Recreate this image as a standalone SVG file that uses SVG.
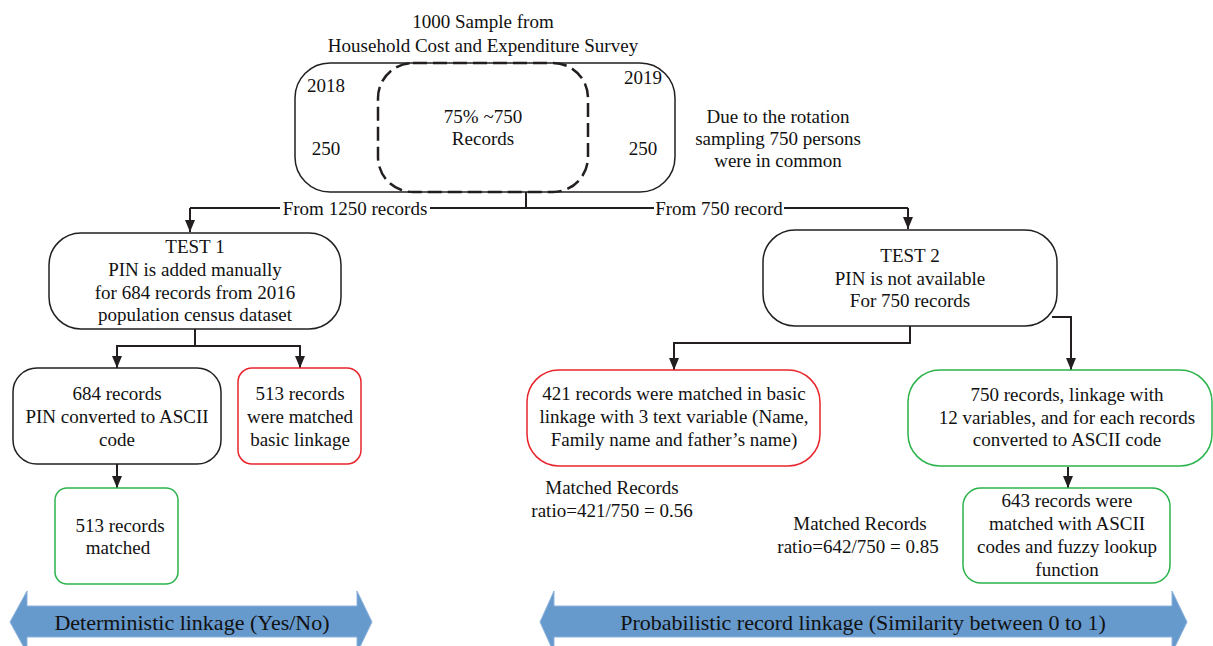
<svg xmlns="http://www.w3.org/2000/svg" width="1213" height="646" viewBox="0 0 1213 646">
<defs>
<style>
text{font-family:'Liberation Serif','Times New Roman',serif;font-size:19px;fill:#111;text-anchor:middle}
.box{fill:#fff;stroke:#231f20;stroke-width:1.5}
.red{fill:#fff;stroke:#e8242c;stroke-width:1.5}
.green{fill:#fff;stroke:#2bb34b;stroke-width:1.5}
.ln{fill:none;stroke:#231f20;stroke-width:2}
.big{font-size:22px}
.band{fill:#6699cc;stroke:#8db3dc;stroke-width:1}
</style>
<marker id="ah" viewBox="0 0 10 12" refX="10" refY="6" markerWidth="12" markerHeight="10" markerUnits="userSpaceOnUse" orient="auto" preserveAspectRatio="none">
<path d="M0,0 L10,6 L0,12 z" fill="#231f20"/>
</marker>
</defs>
<rect width="1213" height="646" fill="#fff"/>

<g id="title">
<text x="483" y="28">1000 Sample from</text>
<text x="483" y="52">Household Cost and Expenditure Survey</text>
</g>

<g id="survey">
<rect class="box" x="295" y="63" width="380" height="129" rx="35"/>
<rect x="378" y="63" width="210" height="129" rx="35" fill="none" stroke="#231f20" stroke-width="2.5" stroke-dasharray="14,6"/>
<text x="326" y="92">2018</text>
<text x="643" y="84">2019</text>
<text x="326" y="155">250</text>
<text x="643" y="155">250</text>
<text x="483" y="123">75% ~750</text>
<text x="483" y="145">Records</text>
</g>

<g id="note">
<text x="778" y="123">Due to the rotation</text>
<text x="778" y="145">sampling 750 persons</text>
<text x="778" y="167">were in common</text>
</g>

<g id="connectors">
<path class="ln" d="M526,192 V208"/>
<path class="ln" d="M190,208 H908"/>
<path class="ln" d="M190,208 V232" marker-end="url(#ah)"/>
<path class="ln" d="M908,208 V229" marker-end="url(#ah)"/>
<rect x="280" y="198" width="150" height="20" fill="#fff"/>
<text x="355" y="215">From 1250 records</text>
<rect x="654" y="198" width="130" height="20" fill="#fff"/>
<text x="719" y="215">From 750 record</text>
<path class="ln" d="M195,329 V346 H117 V368" marker-end="url(#ah)"/>
<path class="ln" d="M195,346 H300 V368" marker-end="url(#ah)"/>
<path class="ln" d="M117,464 V488" marker-end="url(#ah)"/>
<path class="ln" d="M910,326 V343 H674 V370" marker-end="url(#ah)"/>
<path class="ln" d="M1052,317 H1071 V370" marker-end="url(#ah)"/>
<path class="ln" d="M1068,467 V488" marker-end="url(#ah)"/>
</g>

<g id="test1">
<rect class="box" x="49" y="233" width="292" height="96" rx="32"/>
<text x="195" y="253">TEST 1</text>
<text x="195" y="276">PIN is added manually</text>
<text x="195" y="299">for 684 records from 2016</text>
<text x="195" y="321">population census dataset</text>
</g>

<g id="ascii1">
<rect class="box" x="13" y="368" width="208" height="96" rx="24"/>
<text x="117" y="400">684 records</text>
<text x="117" y="423">PIN converted to ASCII</text>
<text x="117" y="446">code</text>
</g>

<g id="basic1">
<rect class="red" x="238" y="368" width="123" height="96" rx="14"/>
<text x="300" y="400">513 records</text>
<text x="300" y="423">were matched</text>
<text x="300" y="446">basic linkage</text>
</g>

<g id="matched1">
<rect class="green" x="55" y="488" width="123" height="96" rx="12"/>
<text x="120" y="532">513 records</text>
<text x="118" y="554">matched</text>
</g>

<g id="test2">
<rect class="box" x="763" y="230" width="294" height="96" rx="32"/>
<text x="910" y="262">TEST 2</text>
<text x="910" y="285">PIN is not available</text>
<text x="910" y="307">For 750 records</text>
</g>

<g id="basic2">
<rect class="red" x="527" y="370" width="293" height="96" rx="32"/>
<text x="674" y="400">421 records were matched in basic</text>
<text x="674" y="423">linkage with 3 text variable (Name,</text>
<text x="674" y="446">Family name and father’s name)</text>
</g>

<g id="ascii2">
<rect class="green" x="908" y="370" width="304" height="96" rx="32"/>
<text x="1067" y="401">750 records, linkage with</text>
<text x="1067" y="424">12 variables, and for each records</text>
<text x="1067" y="446">converted to ASCII code</text>
</g>

<g id="fuzzy">
<rect class="green" x="963" y="488" width="207" height="95" rx="18"/>
<text x="1067" y="507">643 records were</text>
<text x="1067" y="530">matched with ASCII</text>
<text x="1067" y="553">codes and fuzzy lookup</text>
<text x="1067" y="576">function</text>
</g>

<g id="ratio1">
<text x="612" y="494">Matched Records</text>
<text x="612" y="517">ratio=421/750 = 0.56</text>
</g>

<g id="ratio2">
<text x="860" y="530">Matched Records</text>
<text x="858" y="553">ratio=642/750 = 0.85</text>
</g>

<g id="det">
<path class="band" d="M10,622 L27,591 V606 H357 V591 L372,622 L357,653 V637 H27 V653 Z"/>
<text class="big" x="192" y="630">Deterministic linkage (Yes/No)</text>
</g>

<g id="prob">
<path class="band" d="M540,622 L554,591 V606 H1172 V591 L1187,622 L1172,653 V637 H554 V653 Z"/>
<text class="big" x="863" y="630">Probabilistic record linkage (Similarity between 0 to 1)</text>
</g>
</svg>
